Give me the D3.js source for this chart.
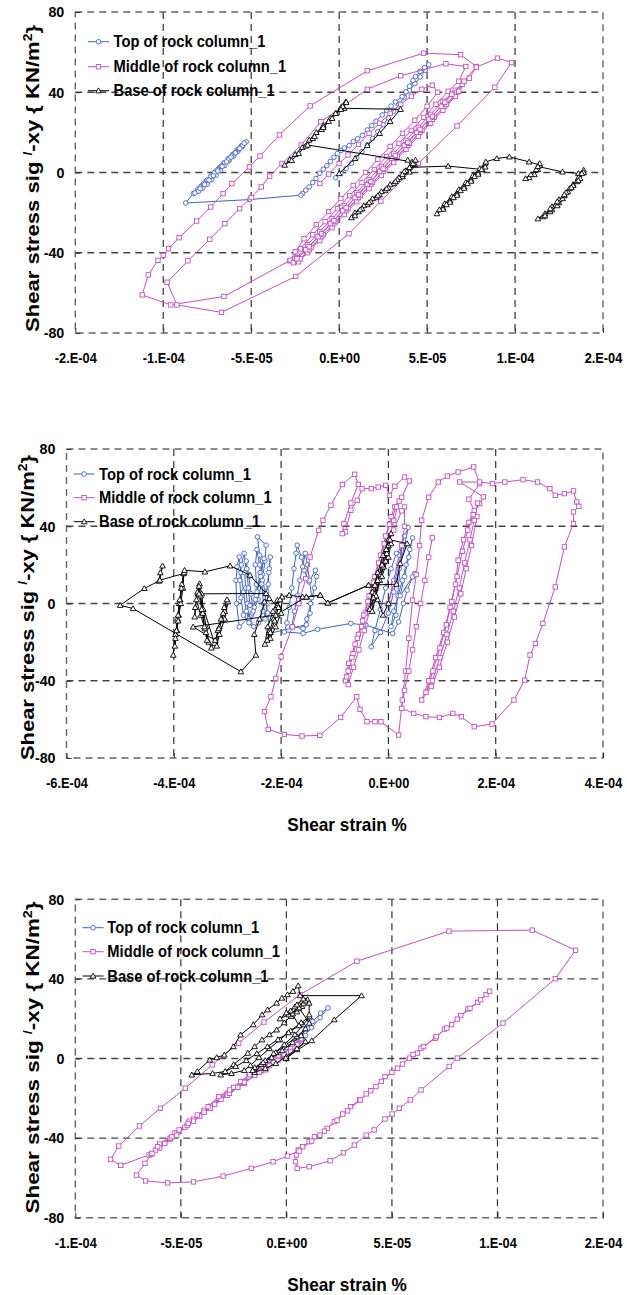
<!DOCTYPE html>
<html><head><meta charset="utf-8">
<script src="https://cdn.jsdelivr.net/npm/d3@7"></script>
<style>
body{margin:0;background:#fff}
svg{display:block}
text{font-family:"Liberation Sans",Arial,sans-serif;font-weight:bold;fill:#000}
</style>
</head><body>
<svg id="c" width="627" height="1295"></svg>
<script>
// strain values below are stored in units of 1e-5 (%), stress in kN/m2
const STRAIN_UNIT = 1e-5;
const seriesNames = ["Top of rock column_1", "Middle of rock column_1", "Base of rock column_1"];
const seriesColors = ["#4064c4", "#c050c0", "#000000"];
const yTickValues = [-80, -40, 0, 40, 80];
const yTickLabels = ["-80", "-40", "0", "40", "80"];

const xTicks1 = [-15, -10, -5, 0, 5, 10, 15];
const xLabels1 = ["-2.E-04", "-1.E-04", "-5.E-05", "0.E+00", "5.E-05", "1.E-04", "2.E-04"];
const xTicks2 = [-60, -40, -20, 0, 20, 40];
const xLabels2 = ["-6.E-04", "-4.E-04", "-2.E-04", "0.E+00", "2.E-04", "4.E-04"];
const xTicks3 = [-10, -5, 0, 5, 10, 15];
const xLabels3 = ["-1.E-04", "-5.E-05", "0.E+00", "5.E-05", "1.E-04", "2.E-04"];

// ---------- Panel 1 ----------
const top1 = [[-0.2,-2.6],[0.1,-0.4],[0.4,2.0],[0.7,4.6],[1.0,7.4],[1.3,10.4],[1.6,13.7],[1.9,17.0],[2.2,20.4],[2.5,23.8],[2.8,27.2],[3.1,30.6],[3.4,34.0],[3.7,37.5],[4.0,41.0],[4.3,44.3],[4.6,47.6],[4.9,51.0],[5.09,53.7],
[4.85,52.3],[4.6,50.4],[4.34,47.8],[4.2,45.9],[4.0,43.0],[3.8,40.2],[3.58,37.8],[3.2,35.2],[2.95,33.1],[2.7,31.0],[2.45,28.7],[2.1,25.6],[1.85,23.4],[1.6,21.2],[1.32,18.5],[1.05,16.8],[0.8,15.4],[0.57,13.4],[0.3,12.2],[0.1,11.0],[-0.1,9.5],[-0.3,7.6],[-0.5,5.5],[-0.7,3.4],[-0.9,1.6],[-1.1,-0.4],[-1.32,-3.0],[-1.5,-5.0],[-1.7,-7.2],[-1.9,-8.8],[-2.08,-10.5],
[-2.17,-11.3],[-5.09,-13.5],[-8.72,-15.2],
[-8.3,-10.5],[-8.05,-8.6],[-7.8,-6.5],[-7.55,-4.3],[-7.3,-2.0],[-7.05,0.2],[-6.8,2.4],[-6.55,4.7],[-6.3,6.9],[-6.05,9.0],[-5.8,11.3],[-5.55,13.4],[-5.28,15.3],
[-5.5,13.0],[-5.75,10.6],[-6.0,8.2],[-6.25,5.9],[-6.5,3.5],[-6.75,1.1],[-7.0,-1.3],[-7.25,-3.6],[-7.5,-5.8],[-7.75,-7.8],[-8.0,-9.3],[-8.2,-10.2],
[-7.9,-7.2],[-7.7,-5.4],[-7.5,-3.7],[-7.3,-2.0],[-7.1,-0.2],[-6.9,1.5],[-6.7,3.2],[-6.5,4.9],[-6.3,6.6],[-6.1,8.3],[-5.9,10.0],[-5.7,11.7],[-5.5,13.4],[-5.4,14.6],
[-5.65,12.0],[-5.9,9.8],[-6.15,7.6],[-6.4,5.3],[-6.65,3.0],[-6.9,0.8],[-7.15,-1.6],[-7.4,-3.8],[-7.65,-6.0],[-7.9,-8.0]];

const mid1 = [[-1.1,-5.5],[-0.6,-0.8],[0.0,4.5],[0.5,8.7],[1.1,14.0],[1.7,19.5],[2.3,24.5],[2.9,29.5],[3.5,34.0],[4.1,38.0],[4.7,41.5],[5.3,43.5],
[5.6,40.0],[5.0,33.0],[4.3,26.0],[3.6,19.5],[2.9,13.0],[2.2,6.5],[1.5,0.0],[0.8,-6.5],[0.1,-13.0],[-0.6,-19.5],[-1.3,-26.0],[-2.0,-33.0],[-2.5,-39.5],[-2.8,-44.0],
[-2.4,-42.5],[-1.8,-36.0],[-1.1,-29.5],[-0.4,-23.0],[0.3,-16.5],[1.0,-10.0],[1.7,-3.5],[2.4,3.0],[3.1,9.5],[3.8,16.0],[4.5,22.5],[5.2,29.0],[5.9,35.5],[6.6,41.0],[7.0,44.0],
[6.6,38.0],[5.9,31.0],[5.2,24.5],[4.5,18.0],[3.8,11.5],[3.1,5.0],[2.4,-1.5],[1.7,-8.0],[1.0,-14.5],[0.3,-21.0],[-0.4,-27.5],[-1.1,-34.0],[-1.8,-40.0],[-2.3,-44.5],
[-1.7,-38.5],[-1.0,-32.0],[-0.3,-25.5],[0.4,-19.0],[1.1,-12.5],[1.8,-6.0],[2.5,0.5],[3.2,7.0],[3.9,13.5],[4.6,20.0],[5.3,26.5],[6.0,33.0],[6.7,40.0],[7.1,45.5],
[7.8,52.8],[6.9,58.7],[4.8,59.5],[1.6,50.7],[-1.65,33.2],[-3.4,18.7],[-4.5,8.2],[-5.1,2.8],[-6.1,-5.5],[-6.6,-10.5],[-7.3,-17.2],[-8.1,-24.2],[-9.1,-32.5],[-9.7,-38.0],[-10.0,-41.3],[-10.3,-43.8],[-10.85,-51.0],[-11.2,-61.0],
[-9.57,-66.0],[-6.55,-61.8],[-2.78,-43.8],
[-2.2,-38.0],[-1.5,-31.0],[-0.8,-24.5],[-0.1,-18.0],[0.6,-11.5],[1.3,-5.0],[2.0,1.5],[2.7,8.0],[3.4,14.5],[4.1,21.0],[4.8,27.5],[5.5,34.0],[6.2,40.5],[6.8,45.5],
[7.2,52.8],[6.07,54.2],[3.5,48.2],[1.6,41.5],[-1.04,25.3],[-2.16,13.7],[-3.25,4.5],[-3.95,-1.8],[-4.43,-7.2],[-5.0,-12.5],[-5.66,-18.0],[-6.5,-25.5],[-7.36,-33.3],[-8.6,-44.0],[-9.78,-54.7],
[-9.22,-66.0],[-6.69,-69.7],[-2.47,-51.8],[0.56,-30.5],[2.37,-14.3],[4.5,4.5],[6.7,23.2],[8.85,42.5],[9.8,54.8],[9.0,57.0],[7.8,52.5],
[7.4,47.0],[6.8,40.5],[6.1,34.0],[5.4,27.5],[4.7,21.0],[4.0,14.5],[3.3,8.0],[2.6,1.5],[1.9,-5.0],[1.2,-11.5],[0.5,-18.0],[-0.2,-24.5],[-0.9,-31.0],[-1.6,-37.5],[-2.2,-43.0],
[-2.6,-45],[-1.9,-38.5],[-1.2,-32],[-0.5,-25.5],[0.2,-19],[0.9,-12.5],[1.6,-6],[2.3,0.5],[3.0,7],[3.7,13.5],[4.4,20],[5.1,26.5],[5.8,33],[6.4,39],
[6.0,35],[5.3,28],[4.6,21.5],[3.9,15],[3.2,8.5],[2.5,2],[1.8,-4.5],[1.1,-11],[0.4,-17.5],[-0.3,-24],[-1.0,-30.5],[-1.7,-37],[-2.4,-43]];

const base1 = [[0.0,-0.5],[0.9,7.0],[1.6,13.5],[2.3,19.5],[2.9,25.5],[3.49,31.5],
[0.28,32.0],[0.38,35.3],[0.1,32.5],[-0.2,29.5],[-0.5,27.0],[-0.9,23.5],[-1.3,20.0],[-1.7,16.2],[-2.1,12.5],[-2.5,9.0],[-2.8,6.5],[-3.1,3.7],
[-2.7,6.0],[-2.3,9.5],[-1.9,13.2],[-1.5,17.0],[-1.0,21.5],[-0.6,25.5],[-0.2,29.5],[0.2,33.0],[0.4,35.0],
[0.1,31.5],[-0.4,27.0],[-0.9,22.5],[-1.4,18.0],[-1.79,13.7],
[4.15,5.3],[3.9,6.2],[4.3,4.0],[4.0,0.3],[3.6,-2.0],[3.1,-5.5],[2.6,-9.0],[2.1,-12.5],[1.6,-16.0],[1.1,-19.5],[0.7,-22.5],[0.9,-20.0],[1.4,-16.5],[1.9,-13.0],[2.4,-9.5],[2.9,-6.0],[3.4,-2.5],[3.8,1.0],[4.2,4.5],[4.34,6.2],
[3.7,0.5],[3.3,-3.5],[2.8,-7.5],[2.3,-11],[1.8,-14.5],[1.3,-18],[0.9,-21.5],[1.2,-18.5],[1.7,-15],[2.2,-11.5],[2.7,-8],[3.2,-4.5],[3.6,-1],[4.0,2.5],
[6.2,3.2],[8.13,1.5],[8.3,4.5],[7.9,0.0],[7.5,-3.5],[7.1,-7.0],[6.7,-10.5],[6.3,-14.0],[5.9,-17.5],[5.56,-20.5],[5.9,-18.3],[6.3,-14.8],[6.7,-11.3],[7.1,-7.8],[7.5,-4.3],[7.9,-0.8],[8.3,2.8],
[8.0,2.0],[7.6,-1.5],[7.2,-5.0],[6.8,-8.5],[6.4,-12.0],[6.0,-15.5],[5.7,-18.5],[6.1,-16.0],[6.5,-12.5],[6.9,-9.0],[7.3,-5.5],[7.7,-2.0],[8.1,1.5],[8.34,5.3],
[8.96,7.0],[9.68,7.8],[10.8,5.3],[11.4,3.7],[11.3,1.5],[11.1,-1.0],[10.8,-2.5],[10.6,-3.0],[10.9,-1.0],[11.2,1.5],[11.4,4.5],[11.3,3.0],
[12.7,0.3],[13.6,-0.5],[13.9,1.2],[13.6,-2.5],[13.3,-6.0],[13.0,-9.5],[12.7,-13.0],[12.4,-16.5],[12.0,-19.5],[11.6,-22.0],[11.3,-23.0],[11.7,-20.5],[12.1,-17.0],[12.5,-13.5],[12.9,-10.0],[13.3,-6.5],[13.7,-3.0],[13.9,0.0],
[13.5,-4.5],[13.1,-8.0],[12.8,-11.5],[12.5,-15.0],[12.1,-18.5],[11.7,-21.5],[12.0,-18.0],[12.4,-14.5],[12.8,-11.0],[13.2,-7.5],[13.6,-4.0],[13.8,-0.5]];

// ---------- Panel 2 ----------
const top2 = [[0,0],[1,12],[2,25],[3,35],[3.7,39.3],[3,30],[2,18],[1,6],[0,-5],[-1.5,-15],[-3.2,-22.4],[-2.5,-14],[-1.5,-3],[-0.5,8],[0.5,18],[1.5,26],[2.5,29.3],
[1.4,-6],[0.5,-12],[1,-4],[1.8,4],[2.6,12],[3.3,20],[4,28],[4.5,34],[3.8,24],[3,14],[2.2,4],
[4.9,15.5],[4.5,13.8],[3.5,6.9],[2.8,0],[1.9,-9.5],[0.8,-15.5],
[-4.2,-11.2],[-7.0,-10.3],[-13.2,-13.4],[-15.9,-15.5],[-19.4,-14.7],
[-18.9,-10],[-18.5,-2],[-18.0,8],[-17.6,18],[-17.2,26],[-17.0,30.2],[-16.2,24],[-15.7,17.2],[-14.8,11.2],[-13.6,17.2],[-13.4,14],[-13.8,8],[-14.5,0],[-15.2,-8],[-15.9,-13],
[-18.0,-12],[-17.5,-4],[-17.0,4],[-16.5,12],[-16.0,19],[-15.5,26],[-15.1,20],[-14.7,12],[-14.3,3],[-14.6,-5],[-15.3,-11],
[-22.2,-15.5],[-22.5,-5],[-23.0,5],[-23.5,15],[-24.0,25],[-24.4,34.5],[-22.8,30.2],[-23.0,22],[-23.5,12],[-24.3,2],[-25.5,-6],[-27.8,-12.1],[-28.3,0],[-28.4,12],[-28.2,19],[-27.8,24.1],[-27.5,16],[-27.0,6],[-26.5,-4],[-25.8,-10],[-25.0,-2],[-24.5,6],[-23.9,16],[-23.2,23.3],[-23.8,14],[-24.6,4],[-25.4,-5],
[-26.0,-8],[-26.3,0],[-26.6,8],[-26.8,16],[-26.5,22],[-26.0,14],[-25.6,5],[-25.2,-4],[-24.8,2],[-24.6,10],[-24.8,20],[-24.5,28],[-24.0,20],[-23.6,10],[-23.3,0],[-23.0,-8],[-22.6,0],[-22.4,10],[-22.2,18],[-22.0,24],[-22.3,16],[-22.7,6],[-23.4,-4],[-24.2,-10],[-25.1,-12],[-26.0,-10],[-27.0,-6],[-27.5,3],[-27.7,12],[-27.4,20],[-26.9,26],[-26.4,18],[-26.1,8],[-25.8,-1]];

const mid2 = [[0,0],[1,10],[2,20],[2.5,30],[3,40],[3,50],[2.5,48],[1,38],[-0.5,28],[-2,15],[-3,3],[-4.3,-5],[-5,-12],[-6.2,-21],[-7.4,-31],[-8,-40],[-7.5,-42],[-6.5,-33],[-5.5,-24],[-4.5,-14],[-3.5,-4],[-2.2,8],[-1,20],[0,32],[1,43],[2,53],
[1.2,50],[0.5,45],[-0.5,35],[-1.5,25],[-2.6,14],[-3.6,4],[-4.6,-6],[-5.6,-16],[-6.6,-26],[-7.5,-35],[-7.8,-38],[-6.8,-28],[-5.8,-18],[-4.8,-9],[-3.8,1],[-2.8,11],[-1.8,21],[-0.8,31],[0.2,41],[1.5,50],[2.5,55],
[3.9,63.4],[3.0,65.5],[1.2,60.7],[0.2,56],[-0.5,61.2],[-1.9,60.3],[-3.2,59.5],[-4.9,59.5],[-5.8,53.4],[-7.0,48.3],[-8.0,37.1],[-8.6,36.2],[-8.3,41.4],[-7.0,52],[-5.6,61.7],[-6.3,66.9],
[-8.6,61.6],[-10.7,50.9],[-12.2,43.1],[-13.0,37.9],[-14.6,24.1],[-15.4,12.9],[-16.7,0],[-17.9,-12.1],[-20.0,-27.6],[-21.0,-38.8],[-21.9,-48.3],[-23.1,-56],
[-22.4,-65.2],[-19.4,-67.8],[-16.1,-68.6],[-12.8,-68.3],[-8.9,-59],[-5.9,-48.3],[-5.3,-54.8],[-4.0,-61.2],[-2.5,-61.2],[-1.4,-61.2],[1.9,-68.1],
[2.6,-50],[3.2,-35],[3.8,-18],[4.5,1.7],[5.2,15],[5.8,30],[6.2,43.1],[7.5,55],[9.3,62.9],[11,66],[13,68.1],[15.9,70.7],[17,62],[15,54],
[16.5,45],[15.5,30],[14.5,18],[13.5,5],[12.3,-7],[11,-20],[9.5,-33],[8,-43],[6.2,-50],[7.5,-40],[8.8,-28],[10.3,-15],[11.5,-2],[12.5,10],[13,22.4],[14,33],[15,42],[16,48],[17,51.7],
[16.6,52],[16,43],[15.2,33],[14.2,21],[13.2,8],[12.1,-4],[10.9,-16],[9.6,-28],[8.2,-40],[7,-46],[8.3,-35],[9.6,-23],[10.8,-11],[11.8,1],[12.8,14],[13.8,27],[14.8,38],[15.8,46],[17.7,55.2],
[13.3,62.9],[17,62.9],[19.4,62.1],[21.7,62.9],[25.1,64.1],[27.8,62.9],[30.1,59.5],[31.1,56],[32.8,56.9],[34.5,58.3],[35.1,52.6],[35.5,50.3],[34.5,47.4],[34.5,41.4],[32.8,29.3],[31.1,8.6],[28.8,-10.3],[27.4,-20.7],[26.4,-26.7],[25.4,-39.7],[23.4,-50],[19.3,-62.4],[16,-63.8],[13.6,-58.6],[12,-56.9],[9.5,-59],[7,-58.6],[4.7,-56.9],[2.5,-54.3],
[3,-45],[3.8,-35],[4.5,-24],[5.2,-12],[6,0],[6.8,12],[7.5,24],[8.2,34]];

const base2 = [[0,0],[-1,-6],[-2,2],[-2.5,9.5],[-1.5,15],[-0.5,22],[0,30],[0.5,36.2],[0,33],[-1,25],[-2,16],[-3,6],[-3.5,-3],[-2.5,5],[-1.2,14],[0,24],[0.5,31],
[-0.3,26],[-0.9,19],[-1.6,12],[-2.3,4],[-3,-4],[-2.8,3],[-2,12],[-1.2,20],[-0.4,28],[0.3,33],
[3.5,31],[2.2,20.7],[1.5,10],
[-3.7,9.5],[-11.3,0.3],[-12.7,4.3],[-15.3,3.4],[-16,3.4],[-18.5,4.3],[-19.8,3.4],
[-20,-5],[-21,-12],[-22,-18],[-23,-21],[-22.5,-12],[-21.5,-4],[-20.7,1.7],[-20.2,2],[-20.6,-1],[-21.4,-8],[-22.1,-14],[-22.6,-19],[-22,-15],[-21.2,-9],[-20.5,-2],
[-22.2,2.6],[-23.1,0.9],[-24,-8],[-25,-16],[-24.7,-26.7],[-27.5,-35.3],
[-47.6,-2.6],[-50,-0.9],[-45.5,7.8],[-42.8,11.6],[-42.5,16],[-42.1,19.5],[-42.6,12.1],
[-38.2,15.5],[-38.5,8],[-39,0],[-39.3,-8],[-39.7,-16],[-40.1,-26.7],[-39.7,-18],[-39.2,-9],[-38.7,0],[-38.3,8],[-38.1,16],
[-38.5,10],[-38.8,2],[-39.1,-6],[-39.4,-14],[-39.8,-22],[-39.5,-14],[-39.2,-6],[-38.9,2],[-38.6,8],[-38,17.2],
[-34.2,16.4],[-29.5,19.5],[-25.8,14.7],[-22.8,5.2],
[-35.5,5],[-35.2,10.3],[-34.8,5],[-34.5,-3],[-34,-12],[-33.5,-20],[-33,-23],[-34,-15],[-35,-6],[-35.8,2],[-36.1,-6.9],
[-36,-2],[-35.6,6],[-35.3,9],[-35,4],[-34.6,-5],[-34.2,-13],[-33.8,-19],[-34.3,-12],[-34.8,-3],[-35.3,5],
[-32.4,-20.7],[-31.5,-12],[-30.5,-4],[-29.9,0.9],[-30.5,-8],[-31.5,-16],[-32,-22],
[-31.8,-14],[-31.2,-8],[-30.6,-2],[-30.1,2],[-30.8,-5],[-31.6,-13],[-32.3,-19],
[-36.4,-12.1],[-21,-6],
[-15.3,3.4],[-12.7,4.3],[-11.3,0.3],[-3.7,9.5]];

// ---------- Panel 3 ----------
const top3 = [[-1.5,-8],[-1,-3],[-0.5,1.5],[0,5.5],[0.5,10],[1.0,14.8],[1.25,18.6],[1.62,22.8],[1.97,25.4],[1.6,20.5],[1.2,15.5],[0.8,11],[0.3,6.5],[-0.2,2],[-0.7,-2.5],[-1.2,-6.5],[-0.8,-3.5],[-0.3,1],[0.2,5],[0.6,8.5],[0.9,11.5]];

const mid3 = [[0,0],[0.4,5],[0.7,9.5],[0.2,5.5],[-0.5,0],[-1.2,-5.5],[-2.0,-11.5],[-2.8,-17.5],[-3.6,-24],[-4.4,-30.5],[-5.2,-37.5],[-6.0,-43.5],[-6.5,-48.5],
[-6.0,-43],[-5.3,-37.5],[-4.6,-31.5],[-3.9,-26],[-3.2,-20],[-2.5,-14.5],[-1.8,-9.2],[-1.1,-4.2],[-0.4,0.8],[0.3,6],[0.7,10],
[0.2,5],[-0.5,-0.5],[-1.2,-6],[-2.0,-12.5],[-2.8,-18.5],[-3.6,-25],[-4.4,-31.5],[-5.2,-38.5],[-6.0,-45],[-6.2,-46],
[-5.5,-40.5],[-4.8,-34.5],[-4.1,-29],[-3.4,-23],[-2.7,-17.5],[-2.0,-12],[-1.3,-7],[-0.6,-2],[0.1,3],[0.5,7],
[-0.1,2],[-0.8,-3.5],[-1.5,-8.5],[-2.3,-14.5],[-3.1,-20.5],[-3.9,-27],[-4.7,-33.5],[-5.5,-40],[-6.4,-48],
[-7.85,-53.7],[-8.33,-50.7],[-7.94,-44],[-6.96,-33.9],[-5.97,-25],[-4.79,-14.9],[-3.51,-3.2],[-2.26,7.7],[-1.06,18.3],[0.65,32.1],[3.34,48.9],[7.7,64],[11.65,64.5],[13.7,54.4],[12.74,40.1],[10.26,17.8],[8.1,0.2],[7.71,-4],
[6.38,-15.8],[5.87,-20.8],[5.35,-25],[5.01,-27.9],[4.67,-30.4],[4.16,-35.9],[3.78,-38.5],[3.22,-43.5],[2.7,-47.4],[2.07,-51.4],[1.08,-54.4],[0.51,-55.2],
[0.43,-51.9],[0.48,-48.5],[0.56,-46],[0.77,-44.3],[1.08,-41.8],[1.33,-39.3],[1.59,-38.5],[1.93,-35.1],[2.27,-31.7],[2.67,-27.9],[3.04,-24.2],[3.47,-20.8],[3.78,-17.8],[4.24,-14.1],[4.67,-9.1],[5.27,-4.9],[5.83,0.2],[6.2,2.7],[6.38,5.2],[7.06,10.2],[7.49,14.8],[7.83,17],[8.26,21.5],[8.6,24.9],[9.06,28.2],[9.46,32.1],[9.63,33.8],
[9.2,29.5],[8.7,25.2],[8.1,19.8],[7.6,15.3],[7.1,11],[6.5,6],[6.0,2],[5.5,-2.8],[5.0,-7],[4.5,-11.5],[4.0,-16.2],[3.5,-20.8],[2.9,-26.3],[2.4,-31],[1.8,-36.5],[1.2,-41.5],[0.6,-46.5],[0.05,-49],
[-0.63,-51.9],[-1.66,-55.2],[-3.0,-59.1],[-4.4,-62],[-5.63,-62.5],[-6.67,-61.5],[-7.1,-58.6],[-6.7,-52.7],[-6.36,-47.7],
[-6.1,-44.3],[-5.76,-42.7],[-5.42,-39.3],[-5.08,-35.9],[-4.65,-32.6],[-4.22,-28.4],[-3.71,-24.2],[-3.2,-19.1],[-2.69,-15.8],[-2.17,-11.6],[-1.74,-8.2],[-0.97,-5.7],[-0.4,-1],[0.2,3.5]];

const base3 = [[0,0],[0.5,4.5],[0.9,8.5],[0.5,5],[0,1],[-0.5,-2.5],[-1.0,-5],[-1.5,-7],[-1.2,-3],[-0.7,0.5],[-0.2,4],[0.3,8],[0.7,11.5],[0.9,15],[0.5,11],[0,7],[-0.5,3],[-1.0,-1],[-1.5,-4.5],
[-1.6,-6],[-1.1,-2],[-0.6,2.5],[-0.1,7],[0.4,12],[0.8,17],[1.1,21],[0.7,18],[0.2,14],[-0.3,9.5],[-0.8,5],[-1.3,0.5],[-1.7,-3.5],
[-2.0,-6],[-2.6,-7.5],[-3.11,-8.2],
[-2.5,-3],[-1.83,2.7],[-1.5,6],[-1.15,9.4],[-0.8,12],[-0.46,14.4],[-0.1,18],[0.22,21.2],[0.5,23.5],[0.74,26.2],[1.0,29.6],[0.8,27.5],[0.55,25],[0.3,22.5],[0.6,27],[0.9,29],[1.08,27.9],[1.08,22],[1.08,17.8],
[0.6,25.5],[0.1,22],[-0.3,20],[0.0,23],[0.4,26],[0.8,30],[0.5,27],[0.2,24],
[0.6,16.5],[0.1,13],[-0.4,9.5],[-0.9,6],[-1.4,2.5],[-1.9,-1],[-2.4,-4],[-2.9,-6.5],[-3.5,-7.5],[-4.48,-8.2],
[-4.22,-6.5],[-3.63,-0.7],[-3.3,0.5],[-2.94,1.8],[-2.51,6],[-2.17,11.9],[-1.57,17],[-1.15,22],[-0.89,24.5],[-0.46,27.9],[-0.21,30.4],[0.05,32.1],[0.31,33.8],[0.56,36.6],
[0.65,31.6],[3.56,31.6],[2.27,19.5],[1.2,9],[-0.03,0.2]];

// ---------- layout ----------
const panels = [
  {left:75.3, right:603, top:12, bottom:333, xd:[-15,15], xt:xTicks1, xl:xLabels1, data:[top1,mid1,base1],
   leg:{l0:88, l1:109, tx:113.5, ys:[41.7,66.7,90.7]}, yt:{x:31.7, y:178.5, len:307}, xtitle:null},
  {left:66.5, right:603, top:449, bottom:758, xd:[-60,40], xt:xTicks2, xl:xLabels2, data:[top2,mid2,base2],
   leg:{l0:73.8, l1:94.5, tx:99, ys:[474,497.7,521.7]}, yt:{x:27.5, y:607.5, len:305}, xtitle:{x:347, y:830.5}},
  {left:75.3, right:603, top:899.3, bottom:1217.7, xd:[-10,15], xt:xTicks3, xl:xLabels3, data:[top3,mid3,base3],
   leg:{l0:82.5, l1:103.6, tx:107.3, ys:[927.7,951.7,976]}, yt:{x:32, y:1057.5, len:312}, xtitle:{x:347, y:1290.7}}
];

const svg = d3.select("#c");

function squeeze(sel, k){
  sel.each(function(){
    const L = this.getComputedTextLength();
    d3.select(this).attr("textLength", (L*k).toFixed(1)).attr("lengthAdjust","spacingAndGlyphs");
  });
}

function marker(g, i, cx, cy, color){
  if(i===0){
    g.append("circle").attr("cx",cx).attr("cy",cy).attr("r",2.3)
      .attr("fill","#fff").attr("stroke",color).attr("stroke-width",0.9);
  } else if(i===1){
    g.append("rect").attr("x",cx-2.2).attr("y",cy-2.2).attr("width",4.4).attr("height",4.4)
      .attr("fill","#fff").attr("stroke",color).attr("stroke-width",0.9);
  } else {
    g.append("path").attr("d", d3.symbol(d3.symbolTriangle, 14)()).attr("transform",`translate(${cx},${cy+0.5})`)
      .attr("fill","#fff").attr("stroke",color).attr("stroke-width",0.9);
  }
}

panels.forEach(p => {
  const x = d3.scaleLinear().domain([p.xd[0]*STRAIN_UNIT, p.xd[1]*STRAIN_UNIT]).range([p.left, p.right]);
  const y = d3.scaleLinear().domain([-80, 80]).range([p.bottom, p.top]);
  const g = svg.append("g");

  // grid
  p.xt.slice(1,-1).forEach(v => {
    g.append("line").attr("x1",x(v*STRAIN_UNIT)).attr("x2",x(v*STRAIN_UNIT)).attr("y1",p.top).attr("y2",p.bottom)
      .attr("stroke","#333").attr("stroke-width",1.2).attr("stroke-dasharray","7,5");
  });
  yTickValues.slice(1,-1).forEach(v => {
    g.append("line").attr("x1",p.left).attr("x2",p.right).attr("y1",y(v)).attr("y2",y(v))
      .attr("stroke","#444").attr("stroke-width",1.3).attr("stroke-dasharray","7,5");
  });
  // border
  g.append("rect").attr("x",p.left).attr("y",p.top).attr("width",p.right-p.left).attr("height",p.bottom-p.top)
    .attr("fill","none").attr("stroke","#666").attr("stroke-width",1.4).attr("stroke-dasharray","7,5");

  // axes
  const xa = g.append("g").attr("transform",`translate(0,${p.bottom})`)
    .call(d3.axisBottom(x).tickValues(p.xt.map(v=>v*STRAIN_UNIT)).tickFormat((d,i)=>p.xl[i]).tickSizeInner(-5).tickSizeOuter(0).tickPadding(20));
  xa.select(".domain").remove();
  xa.selectAll("line").attr("stroke","#333");
  xa.selectAll("text").attr("font-size",14.5).attr("font-family",'"Liberation Sans",Arial,sans-serif').attr("font-weight","bold");
  squeeze(xa.selectAll("text"), 0.88);

  const ya = g.append("g").attr("transform",`translate(${p.left},0)`)
    .call(d3.axisLeft(y).tickValues(yTickValues).tickFormat((d,i)=>yTickLabels[i]).tickSizeInner(-5).tickSizeOuter(0).tickPadding(11));
  ya.select(".domain").remove();
  ya.selectAll("line").attr("stroke","#333");
  ya.selectAll("text").attr("font-size",15).attr("font-family",'"Liberation Sans",Arial,sans-serif').attr("font-weight","bold");
  squeeze(ya.selectAll("text"), 0.95);

  // series
  const line = d3.line().x(d=>x(d[0]*STRAIN_UNIT)).y(d=>y(d[1]));
  p.data.forEach((arr,i) => {
    const sg = g.append("g");
    sg.append("path").attr("d", line(arr)).attr("fill","none").attr("stroke",seriesColors[i]).attr("stroke-width",1);
    arr.forEach(d => marker(sg, i, x(d[0]*STRAIN_UNIT), y(d[1]), seriesColors[i]));
  });

  // legend
  seriesNames.forEach((name,i) => {
    const yy = p.leg.ys[i];
    g.append("line").attr("x1",p.leg.l0).attr("x2",p.leg.l1).attr("y1",yy).attr("y2",yy)
      .attr("stroke",seriesColors[i]).attr("stroke-width",1);
    marker(g, i, (p.leg.l0+p.leg.l1)/2, yy, seriesColors[i]);
    const t = g.append("text").attr("x",p.leg.tx).attr("y",yy).attr("dy","0.36em").attr("font-size",16).text(name);
    squeeze(t, 0.92);
  });

  // y title
  const yt = g.append("text").attr("transform",`translate(${p.yt.x},${p.yt.y}) rotate(-90)`)
    .attr("text-anchor","middle").attr("dy","0.36em").attr("font-size",19);
  yt.append("tspan").text("Shear stress  sig ");
  yt.append("tspan").attr("font-size",12).attr("dy",-7).text("/");
  yt.append("tspan").attr("dy",7).text("-xy { KN/m");
  yt.append("tspan").attr("font-size",12).attr("dy",-7).text("2");
  yt.append("tspan").attr("dy",7).text("}");
  yt.attr("textLength", p.yt.len).attr("lengthAdjust","spacingAndGlyphs");

  if(p.xtitle){
    const xt = g.append("text").attr("x",p.xtitle.x).attr("y",p.xtitle.y).attr("text-anchor","middle")
      .attr("font-size",18.5).text("Shear strain %");
    squeeze(xt, 0.93);
  }
});
</script>
</body></html>
